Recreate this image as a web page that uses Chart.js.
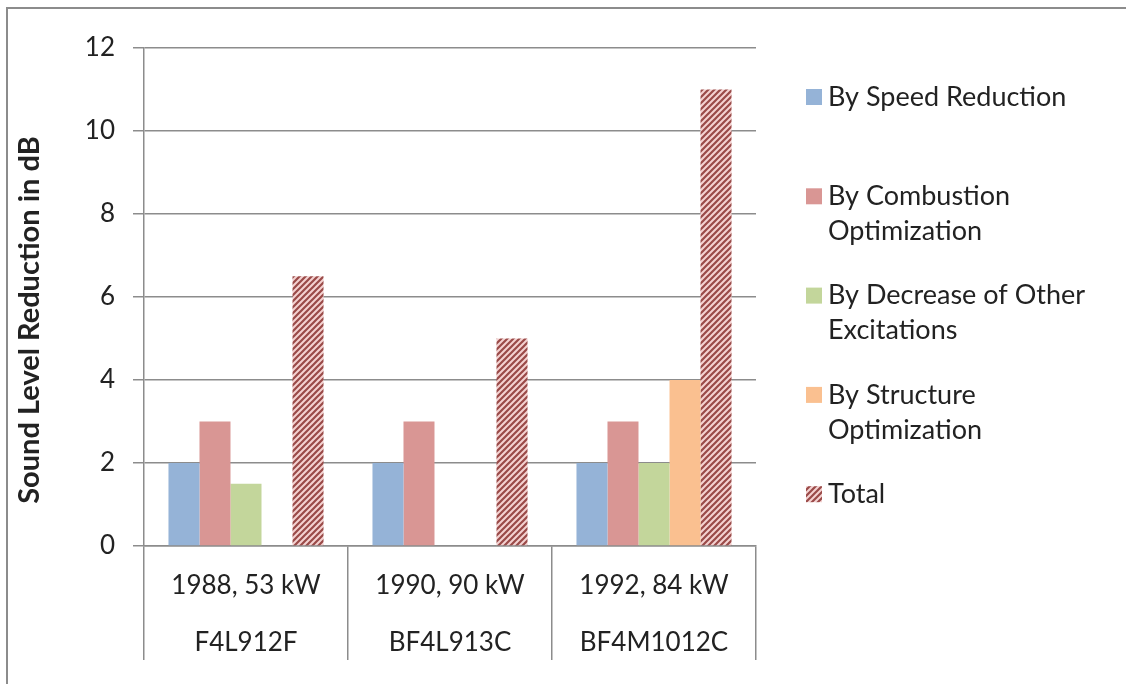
<!DOCTYPE html>
<html>
<head>
<meta charset="utf-8">
<title>Sound Level Reduction</title>
<script src="https://cdn.jsdelivr.net/npm/chart.js@4.4.0/dist/chart.umd.min.js"></script>
<style>
  html, body { margin: 0; padding: 0; background: #fff; }
  #wrap { position: relative; width: 1126px; height: 684px; }
  canvas { display: block; }
</style>
</head>
<body>
<div id="wrap"><canvas id="chart" width="1126" height="684"></canvas></div>
<script>
// Engine generations (year, rated power) and model names
const engines = ['1988, 53 kW', '1990, 90 kW', '1992, 84 kW'];
const models = ['F4L912F', 'BF4L913C', 'BF4M1012C'];

// Series names (line breaks as shown in the legend)
const seriesNames = [
  'By Speed Reduction',
  'By Combustion\nOptimization',
  'By Decrease of Other\nExcitations',
  'By Structure\nOptimization',
  'Total'
];

// Sound level reduction in dB per engine
const speedReduction   = [2, 2, 2];
const combustionOpt    = [3, 3, 3];
const otherExcitations = [1.5, null, 2];
const structureOpt     = [null, null, 4];
const totalReduction   = [6.5, 5, 11];

// Value axis range
const yMin = 0, yMax = 12, yStep = 2;

const FONT = 'Lato, Carlito, Calibri, "Open Sans", sans-serif';
const TEXT = '#222222';
const LINE = '#8c8c8c';

const canvas = document.getElementById('chart');
const ctx = canvas.getContext('2d');

// Upward diagonal hatch used for the "Total" bars
function makeHatch() {
  const p = 6;
  const c = document.createElement('canvas');
  c.width = p; c.height = p;
  const g = c.getContext('2d');
  g.fillStyle = '#f4d2d1';
  g.fillRect(0, 0, p, p);
  g.strokeStyle = '#9a4a48';
  g.lineWidth = 2.2;
  g.beginPath();
  g.moveTo(-1, p + 1); g.lineTo(p + 1, -1);
  g.moveTo(-1, 1); g.lineTo(1, -1);
  g.moveTo(p - 1, p + 1); g.lineTo(p + 1, p - 1);
  g.stroke();
  return ctx.createPattern(c, 'repeat');
}
const hatch = makeHatch();

const colors = ['#95b3d7', '#d99694', '#c3d69b', '#fac090', hatch];
const values = [speedReduction, combustionOpt, otherExcitations, structureOpt, totalReduction];

// Frame, y-axis title and legend
const decorations = {
  id: 'decorations',
  beforeDraw(chart) {
    const c = chart.ctx;
    c.save();
    c.fillStyle = '#fff';
    c.fillRect(0, 0, chart.width, chart.height);
    c.strokeStyle = LINE;
    c.lineWidth = 2;
    c.beginPath();
    c.moveTo(7, chart.height);
    c.lineTo(7, 8);
    c.lineTo(chart.width, 8);
    c.stroke();
    c.restore();
  },
  afterDraw(chart) {
    const c = chart.ctx;
    c.save();
    // axis title
    c.translate(30, 320);
    c.rotate(-Math.PI / 2);
    c.fillStyle = TEXT;
    c.font = 'bold 29px ' + FONT;
    c.textAlign = 'center';
    c.textBaseline = 'middle';
    c.fillText('Sound Level Reduction in dB', 0, 0);
    c.restore();

    // legend
    c.save();
    c.font = '27px ' + FONT;
    c.textBaseline = 'middle';
    c.textAlign = 'left';
    chart.data.datasets.forEach((ds, i) => {
      const y0 = 97 + i * 99.3;
      c.fillStyle = ds.backgroundColor;
      c.fillRect(806, y0 - 8, 16, 16);
      c.fillStyle = TEXT;
      ds.label.split('\n').forEach((line, k) => {
        c.fillText(line, 828, y0 + k * 35);
      });
    });
    c.restore();
  }
};

new Chart(canvas, {
  type: 'bar',
  data: {
    labels: engines.map((e, i) => [e, models[i]]),
    datasets: seriesNames.map((name, i) => ({
      label: name,
      data: values[i],
      backgroundColor: colors[i],
      borderWidth: 0,
      categoryPercentage: 0.76,
      barPercentage: 1.0
    }))
  },
  options: {
    responsive: false,
    animation: false,
    devicePixelRatio: 1,
    layout: { padding: { left: 0, top: 48, right: 370, bottom: 0 } },
    plugins: {
      legend: { display: false },
      tooltip: { enabled: false },
      title: { display: false }
    },
    scales: {
      x: {
        offset: true,
        grid: {
          offset: true,
          drawOnChartArea: false,
          drawTicks: true,
          tickLength: 114,
          color: LINE,
          lineWidth: 1.5
        },
        border: { display: true, color: LINE, width: 1.5 },
        ticks: {
          padding: -103,
          autoSkip: false,
          maxRotation: 0,
          color: TEXT,
          font: { family: FONT, size: 26, lineHeight: 2.19 }
        },
        afterFit(scale) { scale.height = 138; }
      },
      y: {
        min: yMin,
        max: yMax,
        ticks: {
          stepSize: yStep,
          padding: 18,
          color: TEXT,
          font: { family: FONT, size: 26 }
        },
        grid: {
          color: LINE,
          lineWidth: 1.5,
          drawTicks: true,
          tickLength: 11
        },
        border: { display: true, color: LINE, width: 1.5 },
        afterFit(scale) { scale.width = 144; }
      }
    }
  },
  plugins: [decorations]
});
</script>
</body>
</html>
